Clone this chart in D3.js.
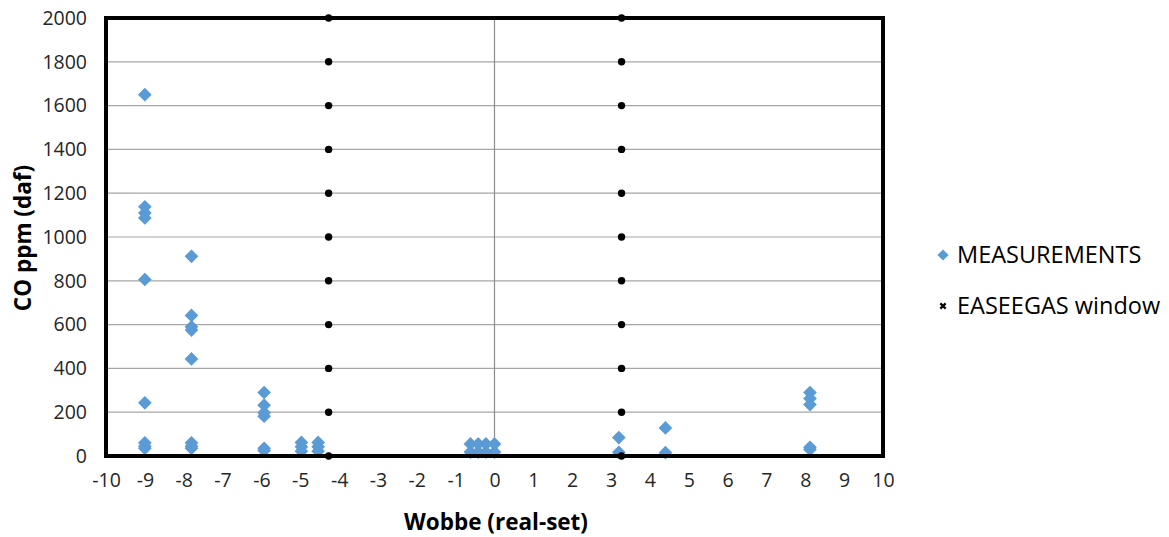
<!DOCTYPE html>
<html>
<head>
<meta charset="utf-8">
<script src="https://cdn.jsdelivr.net/npm/d3@7"></script>
<style>
  html, body { margin: 0; padding: 0; background: #fff; }
  svg { display: block; font-family: "Open Sans", sans-serif; }
</style>
</head>
<body>
<svg id="chart" width="1169" height="537"></svg>
<script>
// Measured CO (ppm, dry ash-free) against Wobbe index deviation (real - set)
const measWobbe = [
  -9, -9, -9, -9, -9, -9, -9, -9, -9,
  -7.8, -7.8, -7.8, -7.8, -7.8, -7.8, -7.8, -7.8,
  -5.93, -5.93, -5.93, -5.93, -5.93, -5.93,
  -4.97, -4.97, -4.97,
  -4.54, -4.54, -4.54,
  -0.62, -0.62, -0.42, -0.42,
  -0.22, -0.22, 0.0, 0.0,
  3.2, 3.2,
  4.4, 4.4,
  8.12, 8.12, 8.12, 8.12, 8.12
];
const measCO = [
  1650, 1138, 1110, 1087, 806, 243, 60, 45, 35,
  912, 642, 590, 575, 443, 60, 45, 35,
  290, 232, 198, 182, 35, 25,
  62, 42, 22,
  62, 42, 22,
  55, 18, 55, 18,
  55, 18, 55, 18,
  84, 17,
  128, 15,
  290, 262, 235, 40, 30
];

// EASEEGAS acceptance window boundaries, marked along the full CO range
const windowWobbe = [-4.27, -4.27, -4.27, -4.27, -4.27, -4.27, -4.27, -4.27, -4.27, -4.27, -4.27,
                     3.27, 3.27, 3.27, 3.27, 3.27, 3.27, 3.27, 3.27, 3.27, 3.27, 3.27];
const windowCO = [0, 200, 400, 600, 800, 1000, 1200, 1400, 1600, 1800, 2000,
                  0, 200, 400, 600, 800, 1000, 1200, 1400, 1600, 1800, 2000];

const xTicks = [-10, -9, -8, -7, -6, -5, -4, -3, -2, -1, 0, 1, 2, 3, 4, 5, 6, 7, 8, 9, 10];
const yTicks = [0, 200, 400, 600, 800, 1000, 1200, 1400, 1600, 1800, 2000];

const seriesNames = ["MEASUREMENTS", "EASEEGAS window"];
const xTitle = "Wobbe (real-set)";
const yTitle = "CO ppm (daf)";

const svg = d3.select("#chart");
const plotLeft = 106, plotRight = 883, plotTop = 18, plotBottom = 456;

const x = d3.scaleLinear().domain([-10, 10]).range([plotLeft, plotRight]);
const y = d3.scaleLinear().domain([0, 2000]).range([plotBottom, plotTop]);

// Plain integer labels with an ASCII hyphen for negatives
const plainLabel = d => String(d);

// Horizontal gridlines
svg.append("g")
  .selectAll("line")
  .data(yTicks)
  .join("line")
  .attr("x1", plotLeft).attr("x2", plotRight)
  .attr("y1", d => y(d)).attr("y2", d => y(d))
  .attr("stroke", "#a6a6a6").attr("stroke-width", 1.2);

// Vertical axis line at Wobbe = 0
svg.append("line")
  .attr("x1", x(0)).attr("x2", x(0))
  .attr("y1", plotTop).attr("y2", plotBottom)
  .attr("stroke", "#8c8c8c").attr("stroke-width", 1.2);

// Y axis labels
const yAxis = d3.axisLeft(y).tickValues(yTicks).tickFormat(plainLabel).tickSize(0).tickPadding(19);
svg.append("g")
  .attr("transform", `translate(${plotLeft},0)`)
  .call(yAxis)
  .call(g => g.select(".domain").remove())
  .call(g => g.selectAll("text")
    .attr("font-family", "Open Sans")
    .attr("font-size", 19.5)
    .attr("fill", "#262626"));

// X axis labels
const xAxis = d3.axisBottom(x).tickValues(xTicks).tickFormat(plainLabel).tickSize(0).tickPadding(17);
svg.append("g")
  .attr("transform", `translate(0,${plotBottom})`)
  .call(xAxis)
  .call(g => g.select(".domain").remove())
  .call(g => g.selectAll("text")
    .attr("font-family", "Open Sans")
    .attr("font-size", 19.5)
    .attr("fill", "#262626"));

// Diamond markers for the measurements
const diamond = d3.symbol().type(d3.symbolDiamond2).size(120);
svg.append("g")
  .selectAll("path")
  .data(measWobbe.map((w, i) => [w, measCO[i]]))
  .join("path")
  .attr("d", diamond)
  .attr("transform", d => `translate(${x(d[0])},${y(d[1])})`)
  .attr("fill", "#5b9bd5");

// Plot frame
svg.append("rect")
  .attr("x", plotLeft).attr("y", plotTop)
  .attr("width", plotRight - plotLeft).attr("height", plotBottom - plotTop)
  .attr("fill", "none").attr("stroke", "#000").attr("stroke-width", 4);

// Window boundary dots
svg.append("g")
  .selectAll("circle")
  .data(windowWobbe.map((w, i) => [w, windowCO[i]]))
  .join("circle")
  .attr("cx", d => x(d[0])).attr("cy", d => y(d[1]))
  .attr("r", 3.7)
  .attr("fill", "#000");

// Axis titles
svg.append("text")
  .attr("x", 496).attr("y", 530)
  .attr("text-anchor", "middle")
  .attr("font-family", "Open Sans").attr("font-weight", "bold")
  .attr("font-size", 22.5).attr("fill", "#000")
  .text(xTitle);

svg.append("text")
  .attr("transform", "translate(31,238) rotate(-90)")
  .attr("text-anchor", "middle")
  .attr("font-family", "Open Sans").attr("font-weight", "bold")
  .attr("font-size", 22.5).attr("fill", "#000")
  .text(yTitle);

// Legend
const legend = svg.append("g");
legend.append("path")
  .attr("d", d3.symbol().type(d3.symbolDiamond2).size(80))
  .attr("transform", "translate(943,255)")
  .attr("fill", "#5b9bd5");
legend.append("path")
  .attr("d", d3.symbol().type(d3.symbolX).size(20))
  .attr("transform", "translate(943,306)")
  .attr("stroke", "#000").attr("stroke-width", 2.2).attr("fill", "none");
legend.selectAll("text")
  .data(seriesNames)
  .join("text")
  .attr("x", 957)
  .attr("y", (d, i) => 255 + i * 51)
  .attr("dy", "0.36em")
  .attr("font-family", "Open Sans")
  .attr("font-size", 23.5)
  .attr("fill", "#000")
  .text(d => d);
</script>
</body>
</html>
